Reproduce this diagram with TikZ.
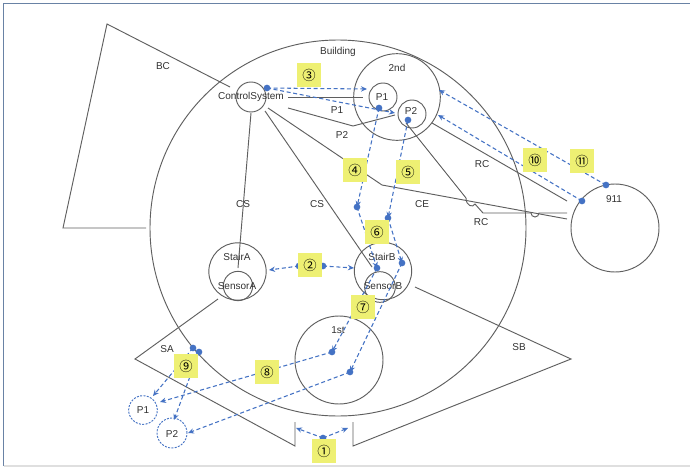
\documentclass[tikz,border=0pt]{standalone}
\usepackage{fontspec}
\setmainfont{Liberation Sans}
\newfontfamily\symfont{Noto Sans CJK JP}
\usetikzlibrary{arrows.meta}
\definecolor{lineg}{RGB}{95,95,95}
\definecolor{dblue}{RGB}{68,114,196}
\definecolor{hyel}{RGB}{238,240,115}
\definecolor{frameb}{RGB}{105,130,165}
\definecolor{txtg}{RGB}{50,50,50}
\begin{document}
\begin{tikzpicture}[x=0.75pt,y=-0.75pt,
  font=\fontsize{7.5}{9}\selectfont,
  ln/.style={draw=lineg, line width=0.7pt},
  circ/.style={circle, draw=lineg, line width=0.7pt, inner sep=0pt},
  bcirc/.style={circle, draw=dblue, line width=0.7pt, dash pattern=on 1.5pt off 1pt, inner sep=0pt},
  dsh/.style={draw=dblue, line width=0.8pt, dash pattern=on 3pt off 2pt},
  arr/.style={dsh, -{Stealth[length=4.5pt,width=4pt]}},
  dotn/.style={circle, fill=dblue, inner sep=0pt, minimum size=5pt},
  tag/.style={fill=hyel, minimum width=17.5pt, minimum height=17.5pt, inner sep=0pt, font=\symfont\fontsize{10}{10}\selectfont},
  lbl/.style={text=txtg, inner sep=0pt}]
\useasboundingbox (0,0) rectangle (690,468);
% frame
\fill[white] (0,0) rectangle (690,468);
\draw[frameb, line width=1.1pt] (3.5,466) -- (3.5,3.5) -- (690,3.5);
\draw[gray!25, line width=0.8pt] (3.5,466) -- (690,466);

% circles
\node[circ, minimum size=282pt] (building) at (338,228) {};
\node[circ, minimum size=65pt] (second) at (397,97) {};
\node[circ, minimum size=22.5pt] (cs) at (251,97) {};
\node[circ, minimum size=21pt] (p1) at (383,97) {};
\node[circ, minimum size=21pt] (p2) at (412,114) {};
\node[circ, minimum size=43pt] (stairA) at (237.5,271.5) {};
\node[circ, minimum size=22pt] (sensorA) at (238,286) {};
\node[circ, minimum size=43pt] (stairB) at (383,271) {};
\node[circ, minimum size=23pt] (sensorB) at (380,287) {};
\node[circ, minimum size=66pt] (first) at (339,360) {};
\node[circ, minimum size=66pt] (e911) at (615,228) {};
\node[bcirc, minimum size=21.5pt] (bp1) at (143,410) {};
\node[bcirc, minimum size=22.5pt] (bp2) at (172,433) {};

% labels
\node[lbl] (tBuilding) at (338,52) {Building};
\node[lbl] (t2nd) at (397,68) {2nd};
\node[lbl] (tCS) at (251,97) {ControlSystem};
\node[lbl] (tP1) at (382,97) {P1};
\node[lbl] (tP2) at (411,111) {P2};
\node[lbl] (lP1) at (337,110) {P1};
\node[lbl] (lP2) at (342,135) {P2};
\node[lbl] (lCS1) at (243,204) {CS};
\node[lbl] (lCS2) at (317,204) {CS};
\node[lbl] (lCE) at (422,204) {CE};
\node[lbl] (lRC1) at (482,164) {RC};
\node[lbl] (lRC2) at (481,222) {RC};
\node[lbl] (t911) at (614,199) {911};
\node[lbl] (lBC) at (163,66) {BC};
\node[lbl] (tStairA) at (237,257) {StairA};
\node[lbl] (tSensorA) at (237,286) {SensorA};
\node[lbl] (tStairB) at (382,257) {StairB};
\node[lbl] (tSensorB) at (383,286) {SensorB};
\node[lbl] (t1st) at (338,330) {1st};
\node[lbl] (lSA) at (167,349) {SA};
\node[lbl] (lSB) at (519,347) {SB};
\node[lbl] (tbP1) at (143,410) {P1};
\node[lbl] (tbP2) at (172,434) {P2};

% polygons BC, SA, SB
\coordinate (bc1) at (230,87); \coordinate (bc2) at (107,24);
\coordinate (bc3) at (63,228); \coordinate (bc4) at (146,228);
\draw[ln] (bc1) -- (bc2) -- (bc3) -- (bc4);
\coordinate (sa1) at (218,299); \coordinate (sa2) at (135,359);
\coordinate (sa3) at (295,446); \coordinate (sa4) at (295,422);
\draw[ln] (sa1) -- (sa2) -- (sa3) -- (sa4);
\coordinate (sb1) at (415,287); \coordinate (sb2) at (571,359);
\coordinate (sb3) at (353,446); \coordinate (sb4) at (353,422);
\draw[ln] (sb1) -- (sb2) -- (sb3) -- (sb4);

% solid connectors
\coordinate (csA0) at (251,113); \coordinate (csA1) at (238,268);
\draw[ln] (csA0) -- (csA1);
\coordinate (csB0) at (265,111); \coordinate (csB1) at (372,267);
\draw[ln] (csB0) -- (csB1);
\coordinate (ce0) at (268,108); \coordinate (ce1) at (382,185); \coordinate (ce2) at (567,219);
\draw[ln] (ce0) -- (ce1) -- (ce2);
\coordinate (lp10) at (288,97); \coordinate (lp11) at (363,97);
\draw[ln] (lp10) -- (lp11);
\coordinate (lp20) at (288,108); \coordinate (lp21) at (353,126); \coordinate (lp22) at (395,115);
\draw[ln] (lp20) -- (lp21) -- (lp22);
\coordinate (rc10) at (432,123); \coordinate (rc11) at (567,201);
\draw[ln] (rc10) -- (rc11);
\coordinate (rc20) at (406,123); \coordinate (rc21) at (466,198);
\coordinate (rc22) at (475,204); \coordinate (rc23) at (483,213);
\coordinate (rc24) at (531,213); \coordinate (rc25) at (567,213);
\draw[ln] (rc20) -- (rc21) .. controls (466,206) and (473,208) .. (rc22) -- (rc23) -- (rc24)
  arc[start angle=180, end angle=0, radius=4] -- (rc25);

% dashed flows
\coordinate (d3) at (267,88);
\coordinate (e3a) at (367,89); \coordinate (e3b) at (395,113);
\draw[arr] (d3) -- (e3a);
\draw[arr] (d3) -- (e3b);
\coordinate (d4a) at (379,108); \coordinate (d4b) at (357,207);
\coordinate (d5a) at (408,120); \coordinate (d5b) at (388,218);
\draw[arr] (d4a) -- (d4b);
\draw[arr] (d5a) -- (d5b);
\coordinate (d6a) at (377,268); \coordinate (d6b) at (402,263);
\draw[arr] (d4b) -- (d6a);
\draw[arr] (d5b) -- (d6b);
\coordinate (d7a) at (332,352); \coordinate (d7b) at (350,372);
\draw[arr] (d6a) -- (d7a);
\draw[arr] (d6b) -- (d7b);
\coordinate (e8a) at (160,402); \coordinate (e8b) at (188,433);
\draw[arr] (d7a) -- (e8a);
\draw[arr] (d7b) -- (e8b);
\coordinate (d9a) at (193,348); \coordinate (d9b) at (199,352);
\coordinate (e9a) at (153,396); \coordinate (e9b) at (174,420);
\draw[arr] (d9a) -- (e9a);
\draw[arr] (d9b) -- (e9b);
\coordinate (d1) at (323,438);
\coordinate (e1a) at (296,428); \coordinate (e1b) at (348,428);
\draw[arr] (d1) -- (e1a);
\draw[arr] (d1) -- (e1b);
\coordinate (d2a) at (299,266); \coordinate (d2b) at (323,266);
\coordinate (e2a) at (269,270); \coordinate (e2b) at (354,268);
\draw[arr] (d2a) -- (e2a);
\draw[arr] (d2b) -- (e2b);
\coordinate (d10) at (582,201); \coordinate (e10) at (438,115);
\draw[arr] (d10) -- (e10);
\coordinate (d11) at (606,185); \coordinate (e11) at (439,90);
\draw[arr] (d11) -- (e11);

% dots
\foreach \p in {d3,d4a,d4b,d5a,d5b,d6a,d6b,d7a,d7b,d9a,d9b,d1,d2a,d2b,d10,d11}
  \node[dotn] at (\p) {};

% tags
\node[tag] (g1) at (324,451) {①};
\node[tag] (g2) at (310,265) {②};
\node[tag] (g3) at (309,75) {③};
\node[tag] (g4) at (355,170) {④};
\node[tag] (g5) at (408,172) {⑤};
\node[tag] (g6) at (377,232) {⑥};
\node[tag] (g7) at (363,307) {⑦};
\node[tag] (g8) at (267,372) {⑧};
\node[tag] (g9) at (186,366) {⑨};
\node[tag] (g10) at (535,160) {⑩};
\node[tag] (g11) at (582,161) {⑪};
\end{tikzpicture}
\end{document}
